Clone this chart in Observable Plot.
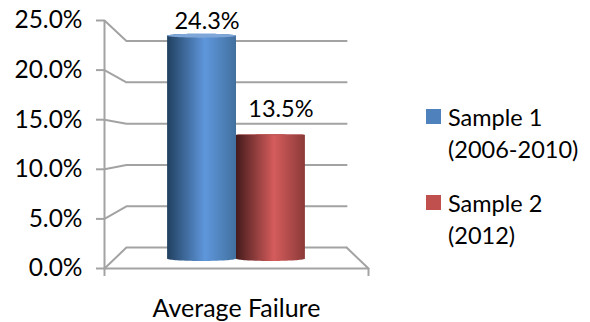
<!DOCTYPE html>
<html>
<head>
<meta charset="utf-8">
<script src="https://cdn.jsdelivr.net/npm/d3@7"></script>
<script src="https://cdn.jsdelivr.net/npm/@observablehq/plot@0.6"></script>
<style>
  html, body { margin: 0; background: #fff; }
  #chart { position: relative; width: 590px; height: 322px; overflow: hidden; font-family: Lato, sans-serif; color: #000; }
  #chart svg { position: absolute; left: 0; top: 0; background: none; }
  .legend { position: absolute; left: 426px; top: 101px; font-size: 23.5px; line-height: 32px; }
  .legend .item { display: flex; align-items: flex-start; margin-bottom: 22px; }
  .legend .swatch { width: 15px; height: 15px; margin: 8px 7px 0 0; flex: none; }
</style>
</head>
<body>
<div id="chart"></div>
<script>
// Values
const category = "Average Failure";
const seriesNames = ["Sample 1\n(2006-2010)", "Sample 2\n(2012)"];
const seriesValues = [24.3, 13.5];
const tickValues = [0, 5, 10, 15, 20, 25];

// Colours
const swatchColors = ["#4f81bd", "#c0504d"];
const capColors = ["#7ea6d8", "#b9524f"];
const gradientStops = [
  ["#20405f", "#5f97dc", "#42719f"],
  ["#451b1b", "#d55c5c", "#8b3a39"]
];
const gridColor = "#a3a3a3";
const gridWidth = 2;

// Oblique projection: a value at depth d (0 = front plane, 1 = back wall)
// expressed in the units of the front-plane y scale, and x pulled inward.
const project = (v, d) => v * (1 - 0.1672 * d) + 2.11 * d;
const inset = d => 0.083 * d;

const gridPaths = tickValues.map(v => [
  {x: 0, y: v},
  {x: inset(1), y: project(v, 1)},
  {x: 1 - inset(1), y: project(v, 1)}
]);
const floorEdge = [
  {x: 0, y: 0},
  {x: 1, y: 0},
  {x: 1 - inset(1), y: project(0, 1)}
];

// Cylinder outlines, sampled along the width of each bar
const barDepth = 0.45;
const barHalfWidth = 0.1305;
const baseRadius = 0.24;
const capRadii = [0.2, 0.04];
const barCenters = [0.5 - barHalfWidth, 0.5 + barHalfWidth];
const angles = d3.range(0, 41).map(i => Math.PI * i / 40);

const row = seriesValues.map((value, i) => {
  const top = project(value, barDepth);
  const base = project(0, barDepth);
  return {value, i, top, base, cx: barCenters[i], r: capRadii[i]};
});
const body = b => angles.map(t => ({
  x: b.cx - barHalfWidth * Math.cos(t),
  y1: b.base - baseRadius * Math.sin(t),
  y2: b.top + b.r * Math.sin(t)
}));
const cap = b => angles.map(t => ({
  x: b.cx - barHalfWidth * Math.cos(t),
  y1: b.top - b.r * Math.sin(t),
  y2: b.top + b.r * Math.sin(t)
}));

const gradients = () => {
  const defs = d3.create("svg:defs");
  gradientStops.forEach((stops, i) => {
    const g = defs.append("linearGradient").attr("id", `barFill${i}`);
    stops.forEach((color, k) => {
      g.append("stop").attr("offset", [0, 0.55, 1][k]).attr("stop-color", color);
    });
  });
  return defs.node();
};

const pct = v => `${v.toFixed(1)}%`;

const plot = Plot.plot({
  width: 590,
  height: 322,
  marginLeft: 104,
  marginRight: 222,
  marginTop: 20,
  marginBottom: 54,
  style: {background: "none", fontFamily: "Lato, sans-serif"},
  x: {domain: [0, 1]},
  y: {domain: [0, 25]},
  marks: [
    gradients,
    ...gridPaths.map(path => Plot.line(path, {x: "x", y: "y", stroke: gridColor, strokeWidth: gridWidth})),
    Plot.line(floorEdge, {x: "x", y: "y", stroke: gridColor, strokeWidth: gridWidth}),
    Plot.ruleX([0], {y1: -0.8, y2: 25, stroke: gridColor, strokeWidth: gridWidth}),
    Plot.ruleX([1], {y1: -0.8, y2: 0, stroke: gridColor, strokeWidth: gridWidth}),
    Plot.axisY({
      ticks: tickValues,
      tickFormat: pct,
      tickSize: 8,
      tickPadding: 14,
      stroke: gridColor,
      strokeWidth: gridWidth,
      fill: "#000",
      fontSize: 24.5,
      label: null
    }),
    Plot.axisX({
      ticks: [0.5],
      tickFormat: () => category,
      tickSize: 0,
      tickPadding: 31,
      fill: "#000",
      fontSize: 25,
      label: null
    }),
    ...row.map(b => Plot.areaY(body(b), {x: "x", y1: "y1", y2: "y2", fill: `url(#barFill${b.i})`})),
    ...row.map(b => Plot.areaY(cap(b), {x: "x", y1: "y1", y2: "y2", fill: capColors[b.i]})),
    Plot.text([row[0]], {x: "cx", y: "top", text: d => pct(d.value), dx: 5, dy: -15, fontSize: 23.5, fill: "#000"}),
    Plot.text([row[1]], {x: "cx", y: "top", text: d => pct(d.value), dx: 10, dy: -26, fontSize: 23.5, fill: "#000"})
  ]
});

const chart = document.getElementById("chart");
chart.appendChild(plot);

// Legend to the right of the plot
const legend = d3.select(chart).append("div").attr("class", "legend");
seriesNames.forEach((name, i) => {
  const item = legend.append("div").attr("class", "item");
  item.append("div").attr("class", "swatch").style("background", swatchColors[i]);
  item.append("div").html(name.split("\n").join("<br>"));
});
</script>
</body>
</html>
